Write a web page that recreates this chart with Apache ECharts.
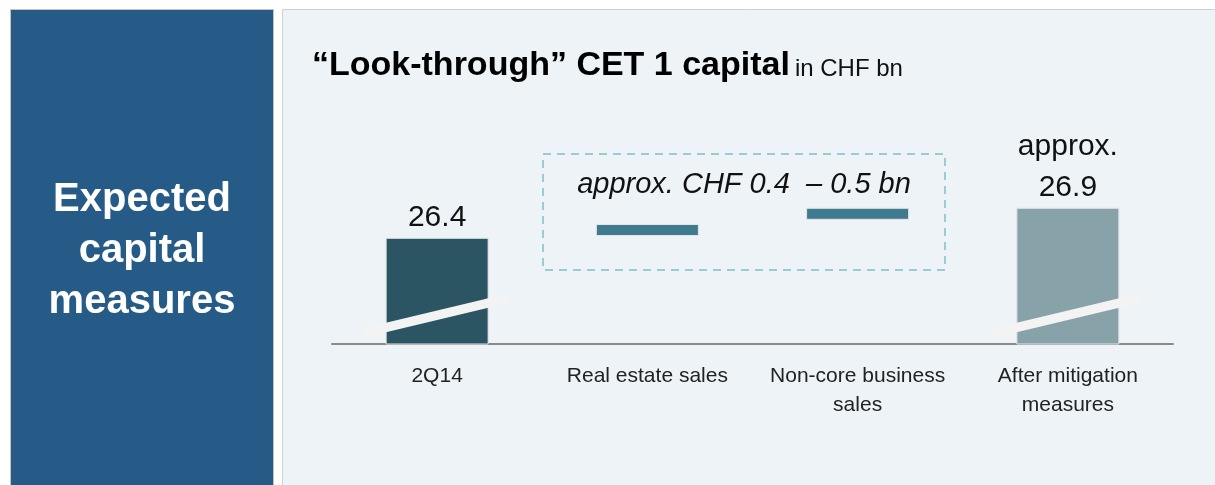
<!DOCTYPE html>
<html>
<head>
<meta charset="utf-8">
<script src="https://cdn.jsdelivr.net/npm/echarts@6/dist/echarts.min.js"></script>
<style>
  html, body { margin: 0; padding: 0; background: #fff; }
  #main { width: 1215px; height: 485px; }
</style>
</head>
<body>
<div id="main"></div>
<script>
// waterfall data (CHF bn)
const categories = ['2Q14', 'Real estate sales', 'Non-core business\nsales', 'After mitigation\nmeasures']
const totals = [26.4, '-', '-', 26.9]
const deltaBase = ['-', 26.43, 26.7, '-']
const deltas = ['-', 0.2, 0.2, '-']
const totalPrefix = ['', '', '', 'approx.\n']
const rangeText = 'approx. CHF 0.4  \u2013 0.5 bn'

const axisMin = 24.63
const axisMax = 27.63

const chart = echarts.init(document.getElementById('main'))

const staticGraphics = [
  // left panel
  { type: 'rect', z: -10, shape: { x: 10.5, y: 9.5, width: 263, height: 490 },
    style: { fill: '#265b87', stroke: '#c6c2be', lineWidth: 1 } },
  { type: 'text', z: -9, x: 142, y: 251,
    style: { text: 'Expected\ncapital\nmeasures', fill: '#fff', font: 'bold 40px "Liberation Sans", Arial, sans-serif',
      lineHeight: 51, align: 'center', verticalAlign: 'middle' } },
  // right panel
  { type: 'rect', z: -10, shape: { x: 282.5, y: 9.5, width: 950, height: 490 },
    style: { fill: '#edf3f6', stroke: '#d3cfcb', lineWidth: 1 } },
  // dashed box around the mitigation measures
  { type: 'rect', z: 1, shape: { x: 543, y: 154, width: 402, height: 116 },
    style: { fill: 'none', stroke: '#9ccbd8', lineWidth: 2, lineDash: [8, 6] } },
  { type: 'text', z: 1, x: 744, y: 185,
    style: { text: rangeText, fill: '#111', font: 'italic 29px "Liberation Sans", Arial, sans-serif',
      align: 'center', verticalAlign: 'middle' } }
]

const option = {
  animation: false,
  title: {
    left: 307,
    top: 44,
    text: '{a|\u201cLook-through\u201d CET 1 capital} {b|in CHF bn}',
    textStyle: {
      rich: {
        a: { fontFamily: 'Liberation Sans', fontWeight: 'bold', fontSize: 34, color: '#000', verticalAlign: 'bottom' },
        b: { fontFamily: 'Liberation Sans', fontWeight: 'normal', fontSize: 24, color: '#111', verticalAlign: 'bottom', padding: [0, 0, 2, 0] }
      }
    }
  },
  grid: { left: 332, right: 42, top: 164, bottom: 141 },
  xAxis: {
    type: 'category',
    data: categories,
    axisTick: { show: false },
    axisLine: { lineStyle: { color: '#8a8a8a', width: 2 } },
    axisLabel: { color: '#222', fontSize: 21, lineHeight: 29, margin: 18, fontFamily: 'Liberation Sans', interval: 0 }
  },
  yAxis: {
    type: 'value',
    min: axisMin,
    max: axisMax,
    show: false,
    splitLine: { show: false }
  },
  series: [
    {
      name: 'base',
      type: 'bar',
      stack: 'w',
      barWidth: 103,
      silent: true,
      itemStyle: { color: 'transparent' },
      data: deltaBase
    },
    {
      name: 'total',
      type: 'bar',
      stack: 'w',
      barWidth: 103,
      data: totals.map((v, i) => v === '-' ? '-' : {
        value: v,
        itemStyle: { color: i === 0 ? '#2b5563' : '#88a2aa', borderColor: '#e4e4e4', borderWidth: 1 }
      }),
      label: {
        show: true,
        position: 'top',
        distance: 0,
        color: '#111',
        fontSize: 30,
        lineHeight: 41,
        fontFamily: 'Liberation Sans',
        formatter: p => totalPrefix[p.dataIndex] + p.value.toFixed(1)
      }
    },
    {
      name: 'delta',
      type: 'bar',
      stack: 'w',
      barWidth: 103,
      itemStyle: { color: '#3e7b8e', borderColor: '#e4e4e4', borderWidth: 1 },
      data: deltas
    }
  ],
  graphic: staticGraphics
}

chart.setOption(option)

// axis-break slashes across the total bars
const slashes = []
totals.forEach((v, i) => {
  if (v === '-') return
  const p = chart.convertToPixel({ gridIndex: 0 }, [i, axisMin])
  slashes.push({
    type: 'line', z: 100,
    shape: { x1: p[0] - 70, y1: p[1] - 12, x2: p[0] + 68, y2: p[1] - 45 },
    style: { stroke: '#f3f3f3', lineWidth: 9, lineCap: 'round' }
  })
})
chart.setOption({ graphic: staticGraphics.concat(slashes) })
</script>
</body>
</html>
